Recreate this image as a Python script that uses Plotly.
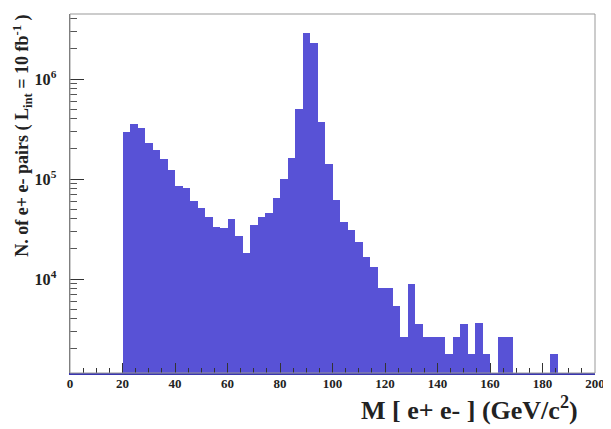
import numpy as np
import plotly.graph_objects as go

# Histogram binning: 70 bins from 0 to 200 GeV/c^2
n_bins = 70
x_min, x_max = 0.0, 200.0

# Counts per bin (None = empty bin)
counts = [
    None, None, None, None, None, None, None,
    297000, 355000, 320000, 229000, 195000, 157000, 122000,
    85000, 80700, 60300, 51300, 41700, 33400, 32000,
    39500, 26900, 18300, 34700, 41400, 46000, 64100,
    99300, 161000, 498000, 2900000, 2310000, 374000, 141000,
    61700, 36800, 30900, 23600, 16700, 13300, 8070,
    8070, 5370, 2650, 8910, 3550, 2650, 2650,
    2650, 1770, 2650, 3550, 1760, 3600, 1760,
    None, 2650, 2650, None, None, None, None,
    None, 1770, None, None, None, None, None,
]

x_tick_vals = [0, 20, 40, 60, 80, 100, 120, 140, 160, 180, 200]
x_title = "M [ e+ e- ] (GeV/c<sup>2</sup>)"
y_title = "N. of e+ e- pairs ( L<sub>int</sub> = 10 fb<sup>-1</sup> )"

width = (x_max - x_min) / n_bins
centers = x_min + width * (np.arange(n_bins) + 0.5)

FONT = "Liberation Serif"
BAR = "#5852d6"

fig = go.Figure()
fig.add_trace(go.Bar(
    x=centers, y=counts, width=width,
    marker=dict(color=BAR, line=dict(width=0)),
    hoverinfo="x+y",
))

fig.update_layout(
    width=603, height=421,
    margin=dict(l=62, r=14, t=6, b=56),
    paper_bgcolor="white", plot_bgcolor="white",
    bargap=0, showlegend=False,
    font=dict(family=FONT, color="#222"),
    xaxis=dict(
        range=[x_min, x_max], tickvals=x_tick_vals,
        ticks="inside", ticklen=10, tickwidth=1, tickcolor="#333",
        minor=dict(dtick=5, tick0=0, ticks="inside", ticklen=5, tickcolor="#333"),
        showline=True, linecolor="#3a36b0", linewidth=2,
        showgrid=False, zeroline=False,
        ticklabelstandoff=-3,
        tickfont=dict(family=FONT, size=13, weight="bold", color="#222"),
    ),
    yaxis=dict(
        type="log", range=[3.06, 6.65], dtick=1,
        exponentformat="power",
        ticks="inside", ticklen=14, tickwidth=1, tickcolor="#333",
        minor=dict(ticks="inside", ticklen=7, tickcolor="#555"),
        showline=True, linecolor="#666", linewidth=1,
        showgrid=False, zeroline=False,
        ticklabelstandoff=10,
        tickfont=dict(family=FONT, size=13, weight="bold", color="#222"),
    ),
    shapes=[dict(type="rect", xref="paper", yref="paper", x0=0, x1=1, y0=0, y1=1,
                 line=dict(color="#999", width=1), layer="above")],
    annotations=[
        dict(text=x_title, xref="paper", yref="paper", x=0.9715, y=-0.0975,
             xanchor="right", yanchor="middle", showarrow=False,
             font=dict(family=FONT, size=26, weight="bold", color="#222")),
        dict(text=y_title, xref="paper", yref="paper", x=-0.09, y=1.003,
             xanchor="center", yanchor="top", textangle=-90, showarrow=False,
             font=dict(family=FONT, size=18, weight="bold", color="#222")),
    ],
)

fig.write_html("out.html")
